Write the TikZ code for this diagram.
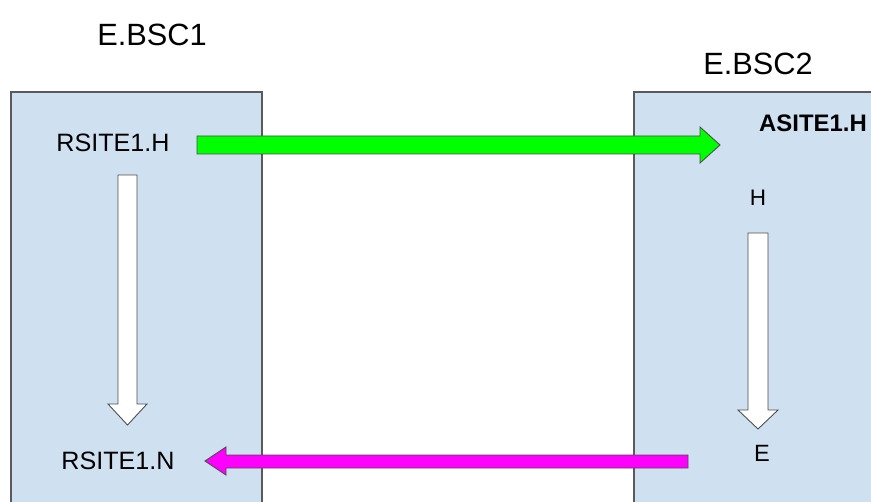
\documentclass[tikz,border=0pt]{standalone}
\usepackage{fontspec}
\setmainfont{Liberation Sans}
\definecolor{bscblue}{RGB}{207,224,241}
\definecolor{bscedge}{RGB}{90,90,90}
\definecolor{fwdgreen}{RGB}{0,255,0}
\definecolor{backpink}{RGB}{255,0,255}
\tikzset{
	bscbox/.style={fill=bscblue, draw=bscedge, line width=.6pt},
	blockarrow/.style={draw=black!70, line width=.5pt, line join=miter},
	sitelabel/.style={font=\fontsize{14.3}{16}\selectfont},
}
\begin{document}
\begin{tikzpicture}[x=0.02cm, y=-0.02cm]

	\clip (0,0) rectangle (871,502);
	\useasboundingbox (0,0) rectangle (871,502);

	% controller boxes
	\draw[bscbox]  (11,92) rectangle (262,520);
	\draw[bscbox]  (634,92) rectangle (890,520);

	\node[font=\fontsize{17.5}{20}\selectfont] (bsc1) at (152,35) {E.BSC1};
	\node[font=\fontsize{17.5}{20}\selectfont] (bsc2) at (758,64) {E.BSC2};

	\node[sitelabel] (rh) at (113,143) {RSITE1.H};
	\node[sitelabel] (rn) at (118,461) {RSITE1.N};
	\node[font=\bfseries\fontsize{13.6}{15}\selectfont] (ah) at (813,123) {ASITE1.H};
	\node[font=\fontsize{12.8}{15}\selectfont] (h) at (758,198) {H};
	\node[font=\fontsize{13.4}{15}\selectfont] (e) at (762,453) {E};

	% green: RSITE1.H -> ASITE1.H
	\draw[blockarrow, fill=fwdgreen]  (197,136) -- (700,136) -- (700,127) -- (720,145)
		-- (700,163) -- (700,154) -- (197,154) -- cycle;

	% magenta: E -> RSITE1.N
	\draw[blockarrow, fill=backpink]  (688,455) -- (226,455) -- (226,447) -- (205,461)
		-- (226,475) -- (226,468) -- (688,468) -- cycle;

	% white: RSITE1.H -> RSITE1.N
	\draw[blockarrow, fill=white]  (118,175) -- (137,175) -- (137,404) -- (147,404)
		-- (127.5,425) -- (108,404) -- (118,404) -- cycle;

	% white: H -> E
	\draw[blockarrow, fill=white]  (748,233) -- (768,233) -- (768,410) -- (778,410)
		-- (758,429) -- (738,410) -- (748,410) -- cycle;

\end{tikzpicture}
\end{document}
